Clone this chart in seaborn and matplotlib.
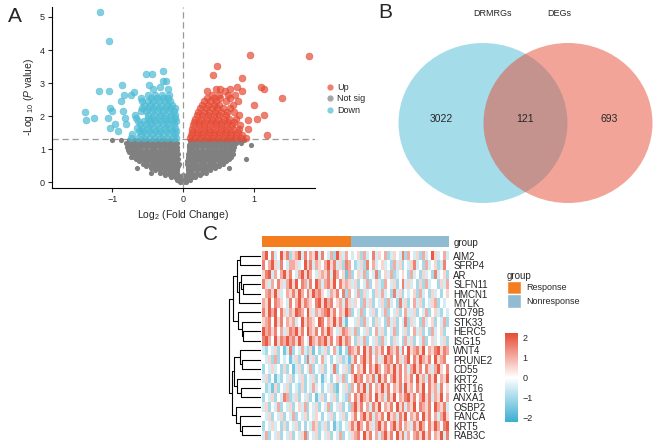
import numpy as np
import pandas as pd
import matplotlib.pyplot as plt
import seaborn as sns
from matplotlib.patches import Ellipse, Patch
from matplotlib.lines import Line2D
from matplotlib.colors import LinearSegmentedColormap, ListedColormap

sns.set_theme(style="ticks")
plt.rcParams['font.family'] = ['Liberation Sans', 'DejaVu Sans']
plt.rcParams['mathtext.fontset'] = 'custom'
plt.rcParams['mathtext.rm'] = 'Liberation Sans'
plt.rcParams['mathtext.it'] = 'Liberation Sans:italic'

##################### data: volcano (y, list of logFC at that -log10 p)

gray_rows = [
    (0.02, [-0.04, 0.0, 0.04]),
    (0.08, [-0.09, -0.03, 0.03, 0.09]),
    (0.15, [-0.17, -0.11, -0.05, 0.01, 0.06, 0.12, 0.17]),
    (0.22, [-0.25, -0.19, -0.13, -0.07, 0.0, 0.06, 0.12, 0.18, 0.24]),
    (0.29, [-0.45, -0.33, -0.27, -0.2, -0.14, -0.08, 0.07, 0.13, 0.19, 0.26, 0.32]),
    (0.36, [-0.39, -0.33, -0.26, -0.2, -0.14, -0.08, 0.07, 0.13, 0.2, 0.26, 0.32, 0.38]),
    (0.43, [-0.65, -0.46, -0.4, -0.33, -0.27, -0.2, -0.14, -0.08, 0.07, 0.13, 0.2, 0.26, 0.33, 0.39, 0.45, 0.64]),
    (0.5, [-0.52, -0.46, -0.39, -0.33, -0.26, -0.2, -0.13, -0.07, 0.07, 0.13, 0.2, 0.26, 0.33, 0.39, 0.46, 0.51]),
    (0.57, [-0.57, -0.51, -0.44, -0.38, -0.31, -0.25, -0.18, -0.12, -0.06, 0.06, 0.12, 0.18, 0.25, 0.31, 0.38, 0.44, 0.5, 0.56]),
    (0.64, [-0.62, -0.55, -0.49, -0.42, -0.36, -0.29, -0.23, -0.16, -0.1, 0.06, 0.11, 0.17, 0.24, 0.3, 0.37, 0.43, 0.5, 0.56, 0.61]),
    (0.71, [-0.66, -0.59, -0.53, -0.46, -0.4, -0.33, -0.27, -0.2, -0.14, -0.07, 0.07, 0.13, 0.2, 0.26, 0.33, 0.39, 0.46, 0.52, 0.59, 0.65, 0.89]),
    (0.78, [-0.74, -0.69, -0.62, -0.56, -0.49, -0.43, -0.36, -0.3, -0.23, -0.17, -0.1, 0.07, 0.1, 0.16, 0.23, 0.29, 0.36, 0.42, 0.49, 0.55, 0.62, 0.67]),
    (0.85, [-0.72, -0.65, -0.59, -0.52, -0.46, -0.39, -0.33, -0.26, -0.2, -0.13, -0.07, 0.07, 0.13, 0.2, 0.26, 0.33, 0.39, 0.46, 0.52, 0.59, 0.65, 0.7]),
    (0.92, [-0.76, -0.69, -0.63, -0.56, -0.5, -0.43, -0.37, -0.3, -0.24, -0.17, -0.11, 0.08, 0.11, 0.17, 0.24, 0.3, 0.37, 0.43, 0.5, 0.56, 0.63, 0.69]),
    (0.99, [-0.78, -0.72, -0.65, -0.59, -0.52, -0.46, -0.39, -0.33, -0.26, -0.2, -0.13, -0.08, 0.08, 0.13, 0.2, 0.26, 0.33, 0.39, 0.46, 0.52, 0.59, 0.65, 0.71]),
    (1.06, [-0.79, -0.72, -0.66, -0.59, -0.53, -0.46, -0.4, -0.33, -0.27, -0.2, -0.14, -0.08, 0.08, 0.14, 0.2, 0.27, 0.33, 0.4, 0.46, 0.53, 0.59, 0.66, 0.72]),
    (1.13, [-0.77, -0.7, -0.64, -0.57, -0.51, -0.44, -0.38, -0.31, -0.25, -0.18, -0.12, 0.08, 0.12, 0.18, 0.25, 0.31, 0.38, 0.44, 0.51, 0.57, 0.64, 0.7, 0.96]),
    (1.2, [-0.8, -0.74, -0.67, -0.61, -0.54, -0.48, -0.41, -0.35, -0.28, -0.22, -0.15, -0.09, 0.09, 0.15, 0.22, 0.28, 0.35, 0.41, 0.48, 0.54, 0.61, 0.67, 0.74, 0.82]),
    (1.27, [-1.0, -0.88, -0.77, -0.7, -0.64, -0.57, -0.51, -0.44, -0.38, -0.31, -0.25, -0.18, -0.12, 0.09, 0.13, 0.19, 0.26, 0.32, 0.39, 0.45, 0.52, 0.58, 0.65, 0.71, 0.79, 0.86]),
]

up_rows = [
    (1.35, [0.1, 0.17, 0.25, 0.33, 0.41, 0.49, 0.57, 0.65, 0.73, 0.81, 0.89]),
    (1.43, [0.11, 0.19, 0.27, 0.35, 0.43, 0.51, 0.59, 0.67, 0.75, 0.83, 1.18]),
    (1.53, [0.12, 0.2, 0.28, 0.36, 0.44, 0.52, 0.6, 0.68, 0.77]),
    (1.62, [0.13, 0.21, 0.29, 0.37, 0.45, 0.53, 0.61, 0.7, 0.79, 0.92]),
    (1.72, [0.14, 0.22, 0.3, 0.38, 0.46, 0.54, 0.62, 0.69, 0.8]),
    (1.82, [0.15, 0.23, 0.31, 0.39, 0.47, 0.55, 0.63, 0.72]),
    (1.9, [0.92]),
    (1.93, [0.17, 0.25, 0.33, 0.41, 0.49, 0.57, 0.65, 0.75, 1.04]),
    (2.04, [0.19, 0.27, 0.35, 0.43, 0.51, 0.6, 0.79, 1.14]),
    (2.14, [0.21, 0.29, 0.37, 0.45, 0.53, 0.62, 0.72]),
    (2.24, [0.24, 0.32, 0.4, 0.48, 0.56, 0.66]),
    (2.34, [0.27, 0.35, 0.43, 0.51, 0.7, 1.0]),
    (2.45, [0.3, 0.38, 0.47, 0.6, 0.78]),
    (2.55, [0.34, 0.44, 0.52, 0.66, 1.39]),
    (2.65, [0.4, 0.5, 0.63, 0.73]),
    (2.76, [0.33, 0.59, 0.83]),
    (2.83, [0.47, 0.52, 0.66, 1.14]),
    (2.87, [0.76, 1.1]),
    (3.16, [0.83]),
    (3.26, [0.42]),
    (3.53, [0.48]),
    (3.82, [1.77]),
    (3.84, [0.94]),
]

down_rows = [
    (1.35, [-0.73, -0.63, -0.55, -0.47, -0.39, -0.31, -0.23, -0.15, -0.1]),
    (1.45, [-0.72, -0.6, -0.52, -0.44, -0.36, -0.28, -0.2, -0.12]),
    (1.55, [-0.92, -0.62, -0.56, -0.48, -0.4, -0.32, -0.24, -0.16, -0.1]),
    (1.65, [-1.03, -0.65, -0.58, -0.5, -0.42, -0.34, -0.26, -0.18, -0.11]),
    (1.75, [-0.96, -0.8, -0.61, -0.53, -0.45, -0.37, -0.29, -0.21, -0.13]),
    (1.85, [-0.63, -0.55, -0.47, -0.39, -0.31, -0.23, -0.15, -0.1]),
    (1.89, [-1.37]),
    (1.95, [-1.26, -1.06, -0.82, -0.66, -0.5, -0.42, -0.34, -0.26, -0.18, -0.12]),
    (2.05, [-0.68, -0.49, -0.41, -0.33, -0.25, -0.17, -0.11]),
    (2.12, [-1.39]),
    (2.15, [-1.01, -0.85, -0.6, -0.52, -0.44, -0.36, -0.28, -0.2, -0.13]),
    (2.25, [-1.03, -0.58, -0.5, -0.42, -0.34, -0.26, -0.18, -0.12]),
    (2.35, [-0.55, -0.47, -0.39, -0.31, -0.23, -0.16]),
    (2.45, [-0.88, -0.58, -0.5, -0.42, -0.34, -0.26, -0.19]),
    (2.55, [-0.6, -0.45, -0.37, -0.29, -0.22]),
    (2.65, [-0.83, -0.73, -0.5, -0.4, -0.3, -0.2]),
    (2.73, [-0.69]),
    (2.77, [-1.19, -1.05]),
    (2.82, [-0.42, -0.21]),
    (2.88, [-0.32]),
    (2.95, [-0.86, -0.48]),
    (3.06, [-0.29, -0.24]),
    (3.28, [-0.53, -0.44]),
    (3.38, [-0.28]),
    (4.27, [-1.05]),
    (5.14, [-1.17]),
]

group_names = ["Up", "Not sig", "Down"]
group_colors = {"Up": "#E64B35", "Not sig": "#808080", "Down": "#4DBBD5"}

##################### data: venn

venn_sets = ["DRMRGs", "DEGs"]
venn_counts = [3022, 121, 693]   # only DRMRGs, both, only DEGs
venn_colors = ["#4DBBD5", "#E64B35"]

##################### data: heatmap

genes = ["AIM2", "SFRP4", "AR", "SLFN11", "HMCN1", "MYLK", "CD79B", "STK33", "HERC5", "ISG15",
         "WNT4", "PRUNE2", "CD55", "KRT2", "KRT16", "ANXA1", "OSBP2", "FANCA", "KRT5", "RAB3C"]
n_response = 30
n_nonresponse = 33

# digits 0..8 -> z-score (d - 4) / 2
resp_rows = [
    "6847348572 5683746583 7436285364",
    "7468537436 6534857365 4685735276",
    "5783646857 4368586435 6573864516",
    "7536475368 5847637486 3675847565",
    "4675853465 7586475867 5436574726",
    "6584765437 4685765478 5867456375",
    "7586847536 5876485365 6785746586",
    "5674857465 6348576548 7465857314",
    "8675746357 6857486574 7586435765",
    "7864857686 7586438657 6857468576",
    "3243524137 2436325142 3524631427",
    "4352624341 3524273524 6342435231",
    "2435342524 1352436243 5243724352",
    "3524132435 2435243524 1342453624",
    "4231524352 4325243634 2435214352",
    "2435243762 3524352413 5243524326",
    "3524362435 2453624352 4362435242",
    "4352435243 6243524354 2435243524",
    "2435342524 3524243652 3524132435",
    "3624352435 2435724352 4352436243",
]
nonresp_rows = [
    "3452634735 4623543726 4352634853 463",
    "4235274634 5342635243 5734263452 374",
    "2453624372 4536234542 6342534273 452",
    "3524362453 2643524735 3425263442 536",
    "4362534253 6342735243 4526342534 245",
    "3542635243 5263427352 4635243562 434",
    "2436243524 3624352463 3524362453 243",
    "4352634253 4263524372 5342634524 362",
    "3624352463 5243624352 4635242634 524",
    "4253624352 6342534263 5243624534 352",
    "6574857365 7486573748 5675846578 576",
    "5746857463 5867475368 4758657485 674",
    "7465847586 4675857463 6857475368 547",
    "5867465738 5746857465 7485637584 658",
    "6475837465 8574657385 6475847563 745",
    "4758657485 6375846578 5746857365 846",
    "6857463758 4657485736 5847657486 573",
    "5746857365 7485637584 6574857463 685",
    "7586475368 5746857465 3758647586 478",
    "5674857463 6857485736 4675857465 837",
]

# row dendrogram: (left node, right node, height); new nodes numbered from 20
merges = [
    (0, 1, 6.5), (3, 4, 5.7), (2, 21, 6.2), (22, 5, 6.7), (20, 23, 7.3),
    (8, 9, 5.5), (7, 25, 6.0), (6, 26, 7.0), (24, 27, 8.7),
    (11, 12, 6.0), (10, 29, 6.5), (14, 15, 6.2), (13, 31, 7.3), (30, 32, 8.4),
    (18, 19, 6.0), (17, 34, 6.5), (16, 35, 7.8), (33, 36, 8.9), (28, 37, 10.0),
]

##################### layout helpers

W, H = 659, 445
fig = plt.figure(figsize=(W / 100, H / 100), dpi=100)


def px_axes(x0, y0, x1, y1):
    return fig.add_axes([x0 / W, 1 - y1 / H, (x1 - x0) / W, (y1 - y0) / H])


##################### A: volcano

recs = []
for name, rows in [("Not sig", gray_rows), ("Up", up_rows), ("Down", down_rows)]:
    for yv, xs in rows:
        for xv in xs:
            recs.append((xv, yv, name))
volcano = pd.DataFrame(recs, columns=["logFC", "logP", "group"])

ax = px_axes(52, 7, 315, 188)
sns.scatterplot(data=volcano[volcano.group == "Not sig"], x="logFC", y="logP",
                color=group_colors["Not sig"], s=14, linewidth=0, ax=ax, legend=False)
for g in ["Up", "Down"]:
    sns.scatterplot(data=volcano[volcano.group == g], x="logFC", y="logP",
                    color=group_colors[g], s=24, alpha=0.7, edgecolor=group_colors[g],
                    linewidth=0.5, ax=ax, legend=False)
ax.axhline(-np.log10(0.05), color="#999999", lw=0.9, ls=(0, (5, 3)), zorder=0.5)
ax.axvline(0, color="#999999", lw=0.9, ls=(0, (5, 3)), zorder=3)
ax.set_xlim(-1.85, 1.86)
ax.set_ylim(-0.17, 5.3)
ax.set_xticks([-1, 0, 1])
ax.set_yticks([0, 1, 2, 3, 4, 5])
ax.set_xlabel(r"Log$_2$ (Fold Change)", fontsize=7.5, labelpad=3)
ax.set_ylabel(r"-Log $_{10}$ ($\it{P}$ value)", fontsize=7.5, labelpad=3)
ax.tick_params(labelsize=6.5, length=3, width=0.8, pad=2)
sns.despine(ax=ax)
for sp in ["left", "bottom"]:
    ax.spines[sp].set_linewidth(0.8)
    ax.spines[sp].set_color("black")

handles = [Line2D([], [], marker="o", ls="", color=group_colors[g], alpha=0.7,
                  markersize=4.5, markeredgewidth=0) for g in group_names]
fig.legend(handles, group_names, loc="center left", bbox_to_anchor=(320 / W, 1 - 99 / H),
           frameon=False, fontsize=6.5, handletextpad=0.2, labelspacing=0.3,
           handlelength=1.2, borderpad=0)

##################### B: venn

axv = px_axes(330, 0, 659, 215)
axv.set_xlim(330, 659)
axv.set_ylim(215, 0)
axv.axis("off")
for cx, col in zip([483, 568], venn_colors):
    axv.add_patch(Ellipse((cx, 123), 169, 160, facecolor=col, alpha=0.5, lw=0))
axv.text(492, 14, venn_sets[0], ha="center", va="center", fontsize=6.5)
axv.text(559, 14, venn_sets[1], ha="center", va="center", fontsize=6.5)
for xx, cnt in zip([441, 525, 609], venn_counts):
    axv.text(xx, 119, str(cnt), ha="center", va="center", fontsize=7.5)

##################### C: heatmap

mat = [[(int(c) - 4) / 2 for c in (r + n).replace(" ", "")] for r, n in zip(resp_rows, nonresp_rows)]
mat = pd.DataFrame(mat, index=genes)
groups = [0] * n_response + [1] * n_nonresponse

cmap = LinearSegmentedColormap.from_list("bwr_npg", ["#3BAED0", "white", "#E64B35"])
grp_cols = ["#F47D20", "#8FBBD3"]

ax_g = px_axes(262, 236, 449, 247)
sns.heatmap(pd.DataFrame([groups], index=["group"]), ax=ax_g, cmap=ListedColormap(grp_cols),
            cbar=False, xticklabels=False, yticklabels=["group"])
ax_g.collections[0].set_antialiased(False)
ax_g.yaxis.tick_right()
ax_g.tick_params(axis="y", length=0, labelsize=7, pad=3, rotation=0)

ax_h = px_axes(262, 251, 449, 440)
ax_cb = px_axes(505, 333, 518, 422)
sns.heatmap(mat, ax=ax_h, cmap=cmap, vmin=-2.2, vmax=2.2, cbar_ax=ax_cb,
            xticklabels=False, yticklabels=genes)
ax_h.collections[0].set_antialiased(False)
ax_h.yaxis.tick_right()
ax_h.tick_params(axis="y", length=0, labelsize=7, pad=3, rotation=0)
cbar = ax_h.collections[0].colorbar
cbar.set_ticks([-2, -1, 0, 1, 2])
cbar.set_ticklabels(["\u22122", "\u22121", "0", "1", "2"])
cbar.outline.set_visible(False)
ax_cb.tick_params(direction="in", color="white", length=3, width=0.8, left=True, right=True,
                  labelsize=6.5, pad=3)

# dendrogram from merges
ax_d = px_axes(228, 251, 261, 440)
pos = {i: (i + 0.5, 0.0) for i in range(len(genes))}
for k, (a, b, h) in enumerate(merges):
    ya, ha = pos[a]
    yb, hb = pos[b]
    ax_d.plot([ha, h, h, hb], [ya, ya, yb, yb], color="black", lw=0.8)
    pos[len(genes) + k] = ((ya + yb) / 2, h)
ax_d.set_xlim(10.2, 0)
ax_d.set_ylim(len(genes), 0)
ax_d.axis("off")

fig.legend(handles=[Patch(facecolor=grp_cols[0], edgecolor="white", label="Response"),
                    Patch(facecolor=grp_cols[1], edgecolor="white", label="Nonresponse")],
           title="group", loc="upper left", bbox_to_anchor=(502 / W, 1 - 266 / H),
           frameon=False, fontsize=6.5, title_fontsize=7, handlelength=1.6, handleheight=2.0,
           labelspacing=0.0, handletextpad=0.6, alignment="left", borderpad=0)

##################### panel letters

fig.text(8 / W, 1 - 17 / H, "A", fontsize=15, va="center", ha="left")
fig.text(378 / W, 1 - 12 / H, "B", fontsize=15, va="center", ha="left")
fig.text(203 / W, 1 - 235 / H, "C", fontsize=15, va="center", ha="left")

plt.savefig("out.png", dpi=100)
plt.close()
